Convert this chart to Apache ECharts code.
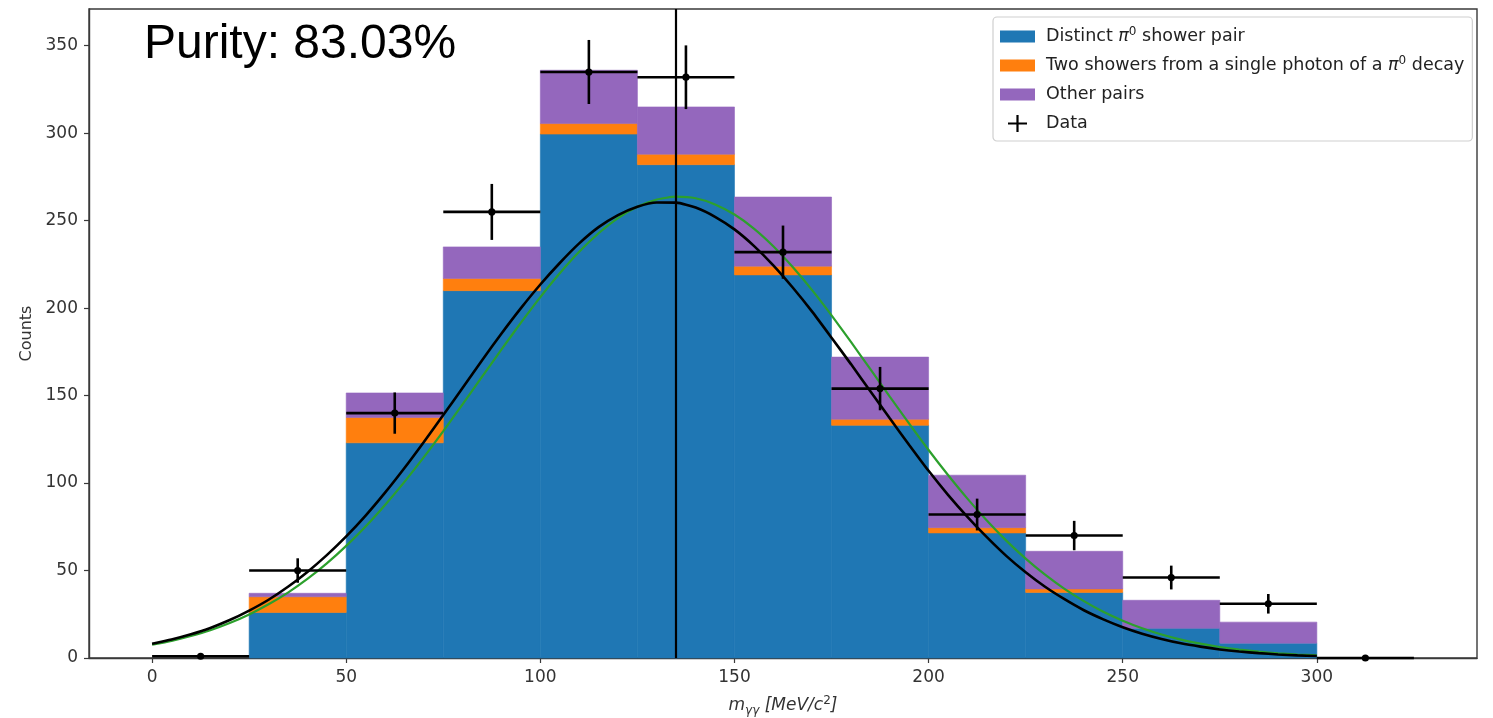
<!DOCTYPE html>
<html>
<head>
<meta charset="utf-8">
<script src="https://cdn.jsdelivr.net/npm/echarts@6/dist/echarts.min.js"></script>
<style>
  html, body { margin: 0; padding: 0; background: #fff; }
  #chart { width: 1493px; height: 718px; }
</style>
</head>
<body>
<div id="chart"></div>
<script>
// ---------------- data ----------------
const binLeft      = [0, 25, 50, 75, 100, 125, 150, 175, 200, 225, 250, 275, 300];
const binWidth     = 25;
const distinctPi0  = [0, 26, 123, 210, 299.5, 282, 219, 133, 71.5, 37.5, 17, 8.5, 0];
const twoShowers   = [0, 9, 14.5, 7, 6, 6, 5, 3.5, 3, 2, 0, 0, 0];
const otherPairs   = [0, 2, 14, 18, 30.5, 27, 39.5, 35.5, 30, 21.5, 16, 12, 0];

const dataX        = [12.5, 37.5, 62.5, 87.5, 112.5, 137.5, 162.5, 187.5, 212.5, 237.5, 262.5, 287.5, 312.5];
const dataY        = [1, 50, 140, 255, 335, 332, 232, 154, 82, 70, 46, 31, 0];
const dataYErr     = [1, 7, 11.8, 16, 18.3, 18.2, 15.2, 12.4, 9.1, 8.4, 6.8, 5.6, 0];

// fit curves, sampled every 5 MeV/c^2 from 0 to 300
const curveX       = [0, 5, 10, 15, 20, 25, 30, 35, 40, 45, 50, 55, 60, 65, 70, 75, 80, 85, 90, 95,
                      100, 105, 110, 115, 120, 125, 130, 135, 140, 145, 150, 155, 160, 165, 170, 175, 180, 185, 190, 195,
                      200, 205, 210, 215, 220, 225, 230, 235, 240, 245, 250, 255, 260, 265, 270, 275, 280, 285, 290, 295, 300];
const blackCurveY  = [8.2, 10.6, 13.6, 17.2, 21.7, 27.1, 33.3, 40.7, 49.2, 58.8, 69.5, 81.4, 94.5, 108.6, 123.5, 138.9, 154.5, 170.2, 185.5, 200.0,
                      213.5, 225.8, 237.0, 246.3, 253.2, 258.0, 260.4, 260.3, 257.5, 252.2, 245.0, 235.6, 224.5, 211.8, 198.0, 183.1, 168.0, 152.5, 137.0, 121.8,
                      107.0, 93.3, 80.7, 69.1, 58.4, 49.0, 40.7, 33.6, 27.3, 22.1, 17.6, 13.9, 10.9, 8.4, 6.5, 4.9, 3.7, 2.8, 2.0, 1.5, 1.1];
const greenCurveY  = [7.6, 9.8, 12.6, 15.9, 20.0, 24.9, 30.7, 37.4, 45.2, 54.1, 64.1, 75.2, 87.5, 100.7, 114.8, 129.7, 145.1, 160.8, 176.4, 191.7,
                      206.3, 219.9, 232.2, 242.8, 251.5, 257.9, 262.1, 263.7, 262.8, 259.3, 253.5, 245.5, 235.4, 223.5, 210.3, 195.9, 180.7, 165.1, 149.4, 134.0,
                      118.9, 104.6, 91.1, 78.6, 67.1, 56.8, 47.6, 39.5, 32.5, 26.4, 21.3, 17.0, 13.4, 10.5, 8.2, 6.3, 4.8, 3.6, 2.7, 2.0, 1.5];

const pi0Mass      = 134.98;
const xTickValues  = [0, 50, 100, 150, 200, 250, 300];
const yTickValues  = [0, 50, 100, 150, 200, 250, 300, 350];
const purityText   = 'Purity: 83.03%';
const legendNames  = ['Distinct π0 shower pair', 'Two showers from a single photon of a π0 decay', 'Other pairs', 'Data'];

// ---------------- build series ----------------
const COLORS = { blue: '#1f77b4', orange: '#ff7f0e', purple: '#9467bd', green: '#2ca02c' };

function stackData(lower, values) {
  return binLeft.map((x0, i) => {
    const base = lower.reduce((s, arr) => s + arr[i], 0);
    return [x0, x0 + binWidth, base, base + values[i]];
  });
}

function renderBar(params, api) {
  const x0 = api.value(0), x1 = api.value(1), y0 = api.value(2), y1 = api.value(3);
  if (y1 - y0 <= 0) return null;
  const p0 = api.coord([x0, y0]);
  const p1 = api.coord([x1, y1]);
  const c = api.visual('color');
  return {
    type: 'rect',
    shape: { x: p0[0], y: p1[1], width: p1[0] - p0[0], height: p0[1] - p1[1] },
    style: { fill: c, stroke: c, lineWidth: 0.6 }
  };
}

function barSeries(name, color, lower, values, z) {
  return {
    name: name,
    type: 'custom',
    renderItem: renderBar,
    itemStyle: { color: color },
    encode: { x: [0, 1], y: [2, 3] },
    data: stackData(lower, values),
    z: z,
    silent: true
  };
}

const errData = dataX.map((x, i) => [x, dataY[i], dataYErr[i]]);

function renderErr(params, api) {
  const x = api.value(0), y = api.value(1), e = api.value(2);
  const hw = binWidth / 2;
  const pl = api.coord([x - hw, y]);
  const pr = api.coord([x + hw, y]);
  const pt = api.coord([x, y + e]);
  const pb = api.coord([x, y - e]);
  const pc = api.coord([x, y]);
  const ls = { stroke: '#000', lineWidth: 2.6 };
  return {
    type: 'group',
    children: [
      { type: 'line', shape: { x1: pl[0], y1: pl[1], x2: pr[0], y2: pr[1] }, style: ls },
      { type: 'line', shape: { x1: pt[0], y1: pt[1], x2: pb[0], y2: pb[1] }, style: ls },
      { type: 'circle', shape: { cx: pc[0], cy: pc[1], r: 3.6 }, style: { fill: '#000' } }
    ]
  };
}

const rectIcon  = 'path://M0,0M35,17M0,2.5h35v12h-35z';
const crossIcon = 'path://M0,0M35,17M16.4,0h2.2v17h-2.2zM8,7.4h19v2.2h-19z';

const legendFmt = {
  'Distinct π0 shower pair': 'Distinct {it|π}{sup|0} shower pair',
  'Two showers from a single photon of a π0 decay': 'Two showers from a single photon of a {it|π}{sup|0} decay',
  'Other pairs': 'Other pairs',
  'Data': 'Data'
};

const chart = echarts.init(document.getElementById('chart'), null, { renderer: 'canvas' });

const option = {
  animation: false,
  backgroundColor: '#ffffff',
  grid: { left: 89, right: 16, top: 9, bottom: 60, outerBoundsMode: 'none', containLabel: false, show: true, borderColor: '#3a3a3a', borderWidth: 1.4, backgroundColor: 'transparent' },
  xAxis: {
    type: 'value',
    min: -16.25, max: 341.25,
    splitLine: { show: false },
    axisLine: { show: true, onZero: false, lineStyle: { color: '#3a3a3a', width: 1.4 } },
    axisTick: { show: true, length: 5, lineStyle: { color: '#3a3a3a', width: 1.2 }, customValues: xTickValues },
    axisLabel: { customValues: xTickValues, margin: 11, fontFamily: 'DejaVu Sans', fontSize: 17, color: '#333' },
    name: '{it|m}{sub|γγ} {it|[MeV/c}{sup|2}{it|]}',
    nameLocation: 'middle',
    nameGap: 37,
    nameTextStyle: {
      fontFamily: 'DejaVu Sans', fontSize: 17, color: '#333',
      rich: {
        it: { fontFamily: 'DejaVu Sans', fontStyle: 'italic', fontSize: 17, color: '#333', lineHeight: 22 },
        sub: { fontFamily: 'DejaVu Sans', fontStyle: 'italic', fontSize: 12, color: '#333', lineHeight: 22, verticalAlign: 'bottom' },
        sup: { fontFamily: 'DejaVu Sans', fontSize: 12, color: '#333', lineHeight: 22, verticalAlign: 'top' }
      }
    }
  },
  yAxis: {
    type: 'value',
    min: 0, max: 371,
    splitLine: { show: false },
    axisLine: { show: true, onZero: false, lineStyle: { color: '#3a3a3a', width: 1.4 } },
    axisTick: { show: true, length: 5, lineStyle: { color: '#3a3a3a', width: 1.2 }, customValues: yTickValues },
    axisLabel: { customValues: yTickValues, margin: 11, fontFamily: 'DejaVu Sans', fontSize: 17, color: '#333' },
    name: 'Counts',
    nameLocation: 'middle',
    nameGap: 49,
    nameTextStyle: { fontFamily: 'DejaVu Sans', fontSize: 16, color: '#333' }
  },
  legend: {
    orient: 'vertical',
    left: 993, top: 17,
    padding: [9, 8, 7, 7],
    itemGap: 8,
    itemWidth: 35, itemHeight: 17,
    backgroundColor: '#fff',
    borderColor: '#cfcfcf', borderWidth: 1.2, borderRadius: 4,
    selectedMode: false,
    formatter: name => legendFmt[name] || name,
    textStyle: {
      fontFamily: 'DejaVu Sans', fontSize: 17.5, color: '#222', lineHeight: 21, padding: [0, 0, 0, 6],
      rich: {
        it: { fontFamily: 'DejaVu Sans', fontStyle: 'italic', fontSize: 17.5, color: '#222', lineHeight: 21 },
        sup: { fontFamily: 'DejaVu Sans', fontSize: 12, color: '#222', lineHeight: 21, verticalAlign: 'top' }
      }
    },
    data: [
      { name: legendNames[0], icon: rectIcon, itemStyle: { color: COLORS.blue } },
      { name: legendNames[1], icon: rectIcon, itemStyle: { color: COLORS.orange } },
      { name: legendNames[2], icon: rectIcon, itemStyle: { color: COLORS.purple } },
      { name: legendNames[3], icon: crossIcon, itemStyle: { color: '#000' } }
    ]
  },
  graphic: [
    {
      type: 'text', left: 144, top: 21, z: 100,
      style: { text: purityText, fontFamily: 'Liberation Sans', fontSize: 48, fill: '#000' }
    }
  ],
  series: [
    barSeries(legendNames[0], COLORS.blue, [], distinctPi0, 2),
    barSeries(legendNames[1], COLORS.orange, [distinctPi0], twoShowers, 2),
    barSeries(legendNames[2], COLORS.purple, [distinctPi0, twoShowers], otherPairs, 2),
    {
      name: 'green fit', type: 'line', smooth: 0.2, showSymbol: false, silent: true,
      lineStyle: { color: COLORS.green, width: 2.2 }, itemStyle: { color: COLORS.green },
      data: curveX.map((x, i) => [x, greenCurveY[i]]), z: 3
    },
    {
      name: 'black fit', type: 'line', smooth: 0.2, showSymbol: false, silent: true,
      lineStyle: { color: '#000', width: 2.6 }, itemStyle: { color: '#000' },
      data: curveX.map((x, i) => [x, blackCurveY[i]]), z: 4,
      markLine: {
        silent: true, symbol: 'none', animation: false,
        label: { show: false },
        lineStyle: { color: '#000', width: 2.2, type: 'solid' },
        data: [{ xAxis: pi0Mass }]
      }
    },
    {
      name: legendNames[3], type: 'custom', renderItem: renderErr,
      itemStyle: { color: '#000' },
      encode: { x: 0, y: 1 },
      data: errData, z: 5, silent: true
    }
  ]
};

chart.setOption(option);
</script>
</body>
</html>
